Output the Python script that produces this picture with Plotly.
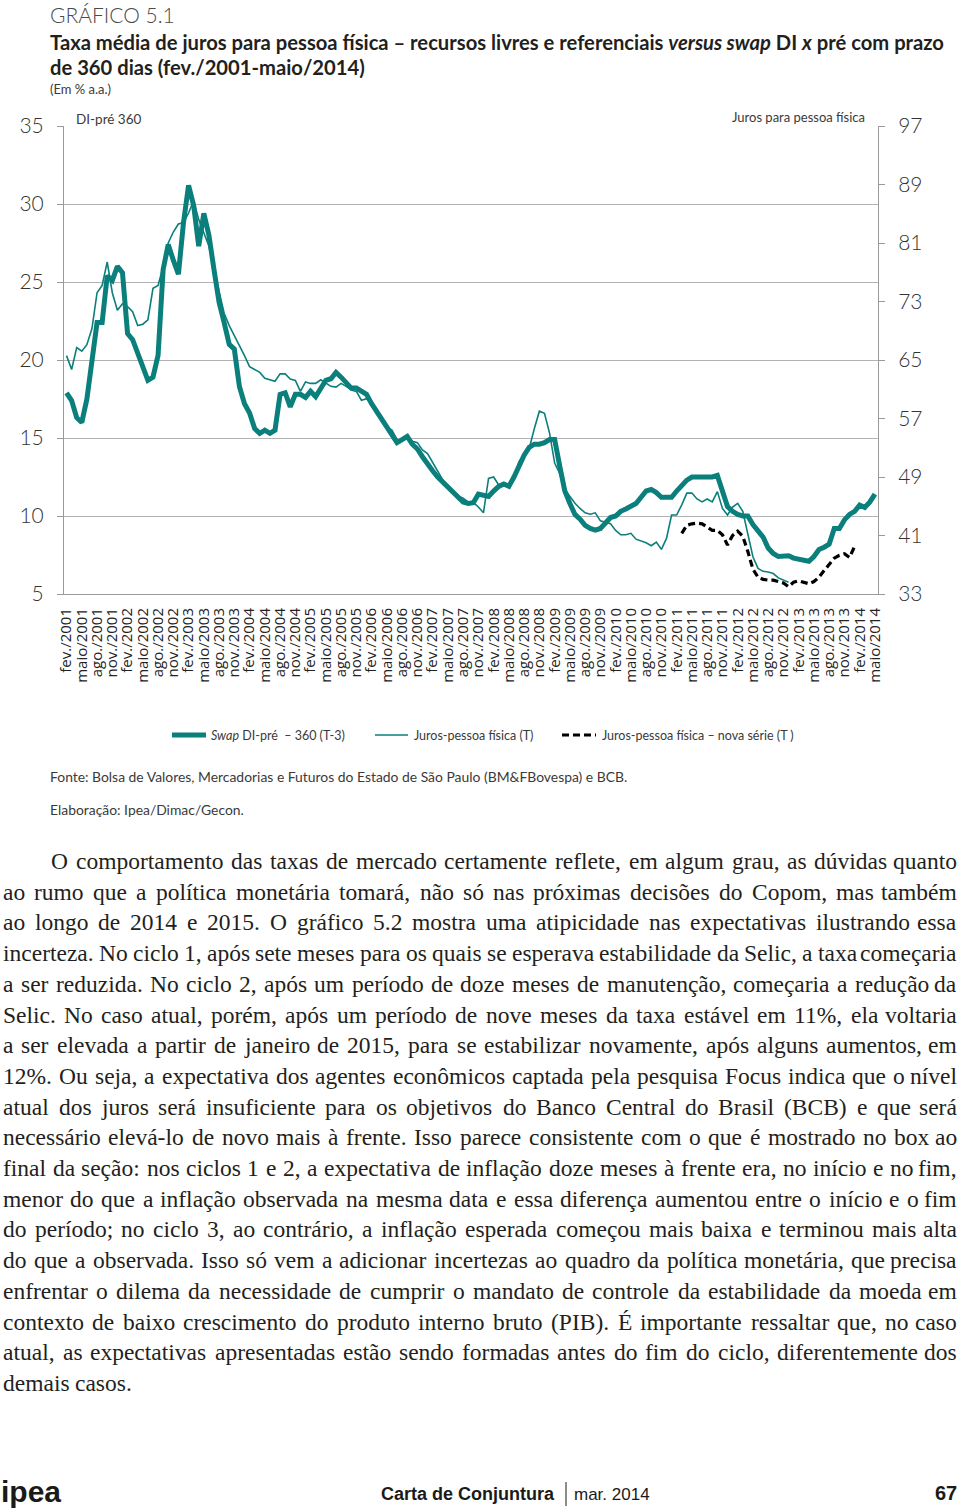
import unicodedata
import plotly.graph_objects as go

# ---------------- data ----------------
MESES = ["jan.", "fev.", "mar.", "abr.", "maio", "jun.", "jul.", "ago.", "set.", "out.", "nov.", "dez."]
ANO_INICIO, MES_INICIO, N_MESES = 2001, 2, 160
categorias = [f"{MESES[(MES_INICIO - 1 + k) % 12]}/{ANO_INICIO + (MES_INICIO - 1 + k) // 12}" for k in range(N_MESES)]
tick_labels = categorias[::3]

# Swap DI-pré 360 (T-3), % a.a. (eixo esquerdo)
swap_di_pre = [
    17.9, 17.4, 16.3, 16.0, 17.5, 20.2, 22.4, 22.4, 25.4, 25.1,
    26.0, 25.6, 21.7, 21.3, 20.4, 19.7, 18.7, 18.9, 20.3, 25.8,
    27.4, 26.4, 25.5, 28.8, 31.2, 29.9, 27.3, 29.4, 28.0, 25.8,
    23.7, 22.4, 21.0, 20.7, 18.3, 17.2, 16.6, 15.6, 15.3, 15.5,
    15.3, 15.5, 17.8, 17.9, 17.0, 17.8, 17.8, 17.6, 18.0, 17.65,
    18.2, 18.7, 18.8, 19.2, 18.9, 18.5, 18.2, 18.2, 18.0, 17.8,
    17.2, 16.7, 16.2, 15.6, 15.1, 14.7, 14.9, 15.1, 14.6, 14.3,
    13.8, 13.3, 12.9, 12.5, 12.2, 11.9, 11.6, 11.2, 10.9, 10.8,
    10.85, 11.4, 11.3, 11.25, 11.6, 11.9, 12.05, 11.9, 12.5, 13.2,
    13.9, 14.4, 14.6, 14.6, 14.7, 14.9, 14.9, 13.2, 11.6, 10.8,
    10.1, 9.8, 9.4, 9.2, 9.1, 9.2, 9.55, 9.9, 10.0, 10.3,
    10.45, 10.6, 10.8, 11.2, 11.6, 11.7, 11.5, 11.2, 11.2, 11.2,
    11.6, 12.0, 12.3, 12.5, 12.5, 12.5, 12.5, 12.5, 12.6, 11.7,
    10.6, 10.3, 10.1, 10.0, 10.0, 9.45, 9.1, 8.65, 7.95, 7.6,
    7.4, 7.4, 7.45, 7.3, 7.25, 7.15, 7.1, 7.4, 7.85, 8.0,
    8.2, 9.2, 9.2, 9.75, 10.1, 10.3, 10.7, 10.55, 10.9, 11.4,
]

# Juros pessoa física (T), % a.a. (eixo direito)
juros_pf = [
    65.6, 63.7, 66.7, 66.2, 67.1, 69.3, 74.2, 75.2, 78.4, 74.2,
    71.8, 72.7, 72.3, 71.6, 69.7, 69.9, 70.5, 74.8, 75.2, 77.8,
    81.0, 82.5, 83.6, 83.8, 85.1, 86.8, 84.2, 82.3, 80.6, 77.4,
    74.4, 71.4, 69.7, 68.4, 67.1, 65.6, 64.1, 63.7, 63.3, 62.5,
    62.3, 62.1, 63.1, 63.1, 62.4, 62.2, 60.7, 62.0, 61.8, 61.8,
    62.3, 61.8, 61.4, 61.3, 61.8, 61.4, 60.9, 60.7, 59.5, 59.7,
    59.0, 57.7, 57.1, 55.8, 55.4, 54.1, 54.1, 54.5, 53.9, 53.7,
    52.7, 52.2, 51.0, 49.6, 48.6, 47.7, 46.9, 46.4, 46.1, 45.6,
    45.5, 44.9, 44.1, 48.8, 49.0, 47.9, 48.1, 47.7, 49.0, 51.1,
    52.0, 52.9, 55.6, 58.0, 57.7, 55.0, 50.9, 49.5, 47.3, 46.3,
    45.4, 44.7, 44.1, 43.9, 44.1, 43.0, 42.8, 42.6, 41.7, 41.1,
    41.1, 41.3, 40.5, 40.3, 40.0, 39.6, 40.1, 39.1, 40.6, 43.8,
    43.8, 45.2, 46.8, 46.8, 46.0, 45.6, 46.0, 45.6, 47.0, 44.7,
    43.8, 44.9, 45.4, 44.3, 41.3, 38.1, 36.5, 36.1, 36.0, 35.8,
    35.2, 34.9, 34.6,
] + [None] * 17

# Juros pessoa física - nova série (T), % a.a. (eixo direito)
juros_pf_nova = [None] * 121 + [
    41.3, 42.4, 42.6, 42.7, 42.6, 42.2, 41.7, 41.7, 41.1, 39.7,
    41.0, 41.6, 40.9, 38.8, 36.4, 35.3, 35.0, 34.9, 34.9, 34.7,
    34.5, 34.0, 34.6, 34.8, 34.6, 34.4, 34.7, 35.3, 36.2, 37.0,
    37.9, 38.3, 38.5, 38.0, 39.5,
] + [None] * 4

eixo_esq_ticks = [5, 10, 15, 20, 25, 30, 35]
eixo_dir_ticks = [33, 41, 49, 57, 65, 73, 81, 89, 97]

# ---------------- style ----------------
TEAL = "#0b7f7b"
DARK = "#231f20"
GRAY_TXT = "#3a3a3a"
NARROW = "Lato, Roboto, sans-serif"
SANS = "Liberation Sans, Arial, sans-serif"
SERIF = "Liberation Serif, Times New Roman, serif"
TICKFONT = "Open Sans, Noto Sans, sans-serif"

W, H = 960, 1510
PL, PR, PT, PB = 64, 878, 126, 594   # plot area in page pixels
PW, PH = PR - PL, PB - PT

fig = go.Figure()
fig.add_trace(go.Scatter(x=categorias, y=swap_di_pre, mode="lines", name="Swap DI-pré – 360 (T-3)",
                         line=dict(color=TEAL, width=5), yaxis="y"))
fig.add_trace(go.Scatter(x=categorias, y=juros_pf, mode="lines", name="Juros-pessoa física (T)",
                         line=dict(color=TEAL, width=1.6), yaxis="y2"))
fig.add_trace(go.Scatter(x=categorias, y=juros_pf_nova, mode="lines", name="Juros-pessoa física – nova série (T )",
                         line=dict(color="black", width=3.2, dash="7px,4px"), yaxis="y2"))

annotations = []
shapes = []


def ann(text, x, y, size, xanchor="left", yanchor="middle", family=NARROW, color=DARK, weight=None):
    font = dict(size=size, family=family, color=color)
    if weight:
        font["weight"] = weight
    annotations.append(dict(text=text, x=(x - PL) / PW, y=(PB - y) / PH, xref="paper", yref="paper",
                            xanchor=xanchor, yanchor=yanchor, showarrow=False, borderpad=0, font=font))


def hline(x0, x1, y, color, width, dash="solid"):
    shapes.append(dict(type="line", xref="paper", yref="paper", x0=(x0 - PL) / PW, x1=(x1 - PL) / PW,
                       y0=(PB - y) / PH, y1=(PB - y) / PH, line=dict(color=color, width=width, dash=dash)))


# titles
ann("GRÁFICO 5.1", 49, 15, 21, family=NARROW, color="#4a4a4a", weight=300)
ann("<b>Taxa média de juros para pessoa física – recursos livres e referenciais <i>versus swap</i> DI <i>x</i> pré com prazo</b>",
    49, 42, 20.2)
ann("<b>de 360 dias (fev./2001-maio/2014)</b>", 49, 67, 20.2)
ann("(Em % a.a.)", 49, 89, 13, color=GRAY_TXT)
ann("DI-pré 360", 75, 119, 13.5, color=GRAY_TXT)
ann("Juros para pessoa física", 866, 117, 13, xanchor="right", color=GRAY_TXT)

# legend
hline(172, 206, 735, TEAL, 5)
ann("<i>Swap</i> DI-pré  – 360 (T-3)", 210, 735, 12.5, color=GRAY_TXT)
hline(375, 408, 735, TEAL, 1.6)
ann("Juros-pessoa física (T)", 413, 735, 12.5, color=GRAY_TXT)
hline(562, 596, 735, "black", 3.2, dash="7px,4px")
ann("Juros-pessoa física – nova série (T )", 601, 735, 12.5, color=GRAY_TXT)

# source
ann("Fonte: Bolsa de Valores, Mercadorias e Futuros do Estado de São Paulo (BM&amp;FBovespa) e BCB.", 49, 776, 13.9, color=GRAY_TXT)
ann("Elaboração: Ipea/Dimac/Gecon.", 49, 809, 13.9, color=GRAY_TXT)

# body text (justified with Times metrics)
TW = dict(zip("abcdefghijklmnopqrstuvwxyz",
              [444, 500, 444, 500, 444, 333, 500, 500, 278, 278, 500, 278, 778, 500, 500, 500, 500, 333, 389, 278,
               500, 500, 722, 500, 500, 444]))
TW.update(zip("ABCDEFGHIJKLMNOPQRSTUVWXYZ",
              [722, 667, 667, 722, 611, 556, 722, 722, 333, 389, 722, 611, 889, 722, 722, 556, 722, 667, 556, 611,
               722, 722, 944, 722, 722, 611]))
TW.update({d: 500 for d in "0123456789"})
TW.update({" ": 250, ",": 250, ".": 250, ";": 278, ":": 278, "(": 333, ")": 333, "%": 833, "-": 333, "–": 500})


def wem(s):
    return sum(TW.get(unicodedata.normalize("NFD", c)[0], 500) for c in s) / 1000.0


body_lines = [
    "O comportamento das taxas de mercado certamente reflete, em algum grau, as dúvidas quanto",
    "ao rumo que a política monetária tomará, não só nas próximas decisões do Copom, mas também",
    "ao longo de 2014 e 2015. O gráfico 5.2 mostra uma atipicidade nas expectativas ilustrando essa",
    "incerteza. No ciclo 1, após sete meses para os quais se esperava estabilidade da Selic, a taxa começaria",
    "a ser reduzida. No ciclo 2, após um período de doze meses de manutenção, começaria a redução da",
    "Selic. No caso atual, porém, após um período de nove meses da taxa estável em 11%, ela voltaria",
    "a ser elevada a partir de janeiro de 2015, para se estabilizar novamente, após alguns aumentos, em",
    "12%. Ou seja, a expectativa dos agentes econômicos captada pela pesquisa Focus indica que o nível",
    "atual dos juros será insuficiente para os objetivos do Banco Central do Brasil (BCB) e que será",
    "necessário elevá-lo de novo mais à frente. Isso parece consistente com o que é mostrado no box ao",
    "final da seção: nos ciclos 1 e 2, a expectativa de inflação doze meses à frente  era, no início e no fim,",
    "menor do que a inflação observada na mesma data e essa diferença aumentou entre o início e o fim",
    "do período; no ciclo 3, ao contrário, a inflação esperada começou mais baixa e terminou mais alta",
    "do que a observada. Isso só vem a adicionar incertezas ao quadro da política monetária, que precisa",
    "enfrentar o dilema da necessidade de cumprir o mandato de controle da estabilidade da moeda em",
    "contexto de baixo crescimento do produto interno bruto (PIB). É importante ressaltar que, no caso",
    "atual, as expectativas apresentadas estão sendo formadas antes do fim do ciclo, diferentemente dos",
    "demais casos.",
]
BX0, BX1, INDENT, BY0, BDY = 2, 958, 50, 861, 30.7
fits = []
for k, line in enumerate(body_lines[:-1]):
    words = line.split()
    x0 = INDENT if k == 0 else BX0
    fits.append((BX1 - x0) / (sum(wem(w) for w in words) + 0.22 * (len(words) - 1)))
BSIZE = min(23.5, min(fits))
for k, line in enumerate(body_lines):
    words = line.split()
    x0 = INDENT if k == 0 else BX0
    y = BY0 + k * BDY
    widths = [wem(w) * BSIZE for w in words]
    if k == len(body_lines) - 1:
        gap = 0.25 * BSIZE
    else:
        gap = (BX1 - x0 - sum(widths)) / (len(words) - 1)
    x = x0
    for j, (w, wd) in enumerate(zip(words, widths)):
        if j == len(words) - 1 and k != len(body_lines) - 1:
            ann(w, BX1, y, BSIZE, xanchor="right", family=SERIF)
        else:
            ann(w, x, y, BSIZE, family=SERIF)
        x += wd + gap

# footer
ann("<b>ipea</b>", 0, 1491, 30, family=SANS, color="#1a1a1a")
ann("<b>Carta de Conjuntura</b>", 380, 1494, 18, family=SANS, color="#1a1a1a")
shapes.append(dict(type="line", xref="paper", yref="paper", x0=(566 - PL) / PW, x1=(566 - PL) / PW,
                   y0=(PB - 1482) / PH, y1=(PB - 1506) / PH, line=dict(color="#1a1a1a", width=1)))
ann("mar. 2014", 573, 1494, 17, family=SANS, color="#1a1a1a")
ann("<b>67</b>", 958, 1493, 20, xanchor="right", family=SANS, color="#1a1a1a")

fig.update_layout(
    width=W, height=H,
    margin=dict(l=PL, r=W - PR, t=PT, b=H - PB, pad=0),
    paper_bgcolor="white", plot_bgcolor="white",
    showlegend=False,
    annotations=annotations, shapes=shapes,
    xaxis=dict(type="category", range=[-0.5, 159.6], tickmode="array", tickvals=tick_labels, ticktext=tick_labels,
               tickangle=-90, tickfont=dict(family=TICKFONT, size=15, color="#222"), showgrid=False,
               showline=True, linecolor="#9a9a9a", linewidth=1, ticks="", ticklabelstandoff=7, zeroline=False),
    yaxis=dict(range=[5, 35], tickvals=eixo_esq_ticks, showgrid=True, gridcolor="#b3b3b3", gridwidth=1,
               showline=True, linecolor="#9a9a9a", linewidth=1, ticks="outside", ticklen=6, tickcolor="#9a9a9a",
               tickfont=dict(family=NARROW, size=21, color="#333", weight=300), ticklabelstandoff=9, zeroline=False),
    yaxis2=dict(range=[33, 97], tickvals=eixo_dir_ticks, overlaying="y", side="right", showgrid=False,
                showline=True, linecolor="#9a9a9a", linewidth=1, ticks="outside", ticklen=6, tickcolor="#9a9a9a",
                tickfont=dict(family=NARROW, size=21, color="#333", weight=300), ticklabelstandoff=9, zeroline=False),
)

fig.write_html(
    "out.html",
    config={"displayModeBar": False},
    post_script="document.body.style.margin='0px';document.documentElement.style.overflow='hidden';",
)
